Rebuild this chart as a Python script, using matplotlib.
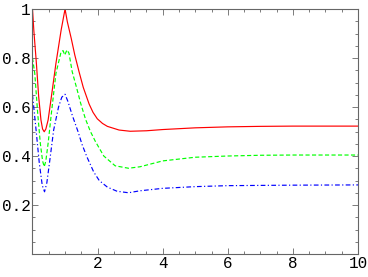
import numpy as np
import matplotlib
matplotlib.use('Agg')
import matplotlib.pyplot as plt
from matplotlib.ticker import MultipleLocator

# 読み取った曲線データ
red_x = [0, 0.04, 0.12, 0.19, 0.26, 0.31, 0.36, 0.41, 0.48, 0.58, 0.72, 0.88, 1.0,
         1.07, 1.19, 1.30, 1.43, 1.56, 1.74, 1.86, 1.99, 2.15, 2.30, 2.66, 3.0, 3.5, 4, 5, 6,
         7, 8, 9, 10]
red_y = [1.0, 0.914, 0.778, 0.642, 0.547, 0.51, 0.499, 0.51, 0.547, 0.642, 0.778, 0.914, 1.0,
         0.948, 0.88, 0.812, 0.744, 0.68, 0.612, 0.578, 0.552, 0.533, 0.521, 0.506, 0.501, 0.503,
         0.508, 0.515, 0.519, 0.521, 0.522, 0.522, 0.522]

green_x = [0, 0.07, 0.16, 0.24, 0.31, 0.36, 0.41, 0.48, 0.58, 0.72, 0.88, 0.94, 0.99, 1.06,
           1.12, 1.22, 1.36, 1.48, 1.63, 1.78, 1.93, 2.19, 2.54, 2.95, 3.3, 4, 5, 6, 7, 8, 10]
green_y = [0.80, 0.737, 0.574, 0.452, 0.38, 0.356, 0.38, 0.452, 0.574, 0.737, 0.826, 0.83, 0.812,
           0.833, 0.82, 0.744, 0.676, 0.615, 0.55, 0.50, 0.46, 0.40, 0.36, 0.35, 0.356, 0.38,
           0.395, 0.40, 0.403, 0.404, 0.404]

blue_x = [0, 0.11, 0.21, 0.3, 0.37, 0.44, 0.52, 0.65, 0.8, 0.9, 1.0, 1.09, 1.22, 1.40,
          1.52, 1.67, 1.88, 2.05, 2.3, 2.6, 2.95, 3.3, 4, 5, 6, 8, 10]
blue_y = [0.65, 0.506, 0.37, 0.28, 0.254, 0.29, 0.37, 0.506, 0.60, 0.64, 0.652, 0.622, 0.567,
          0.499, 0.448, 0.397, 0.335, 0.30, 0.273, 0.256, 0.25, 0.258, 0.268, 0.275, 0.279,
          0.281, 0.282]

xticks = [2, 4, 6, 8, 10]
yticks = [0.2, 0.4, 0.6, 0.8, 1]
xticklabels = ['2', '4', '6', '8', '10']
yticklabels = ['0.2', '0.4', '0.6', '0.8', '1']

fig = plt.figure(figsize=(3.68, 2.77), dpi=100)
ax = fig.add_axes([0.0883, 0.083, 0.8845, 0.8845])

ax.plot(red_x, red_y, color='#ff0000', lw=0.85)
ax.plot(green_x, green_y, color='#00ff00', lw=0.85, dashes=(3.5, 2))
ax.plot(blue_x, blue_y, color='#0000ff', lw=0.85, dashes=(4, 2, 1, 2))

ax.set_xlim(0, 10)
ax.set_ylim(0, 1)
ax.set_xticks(xticks)
ax.set_xticklabels(xticklabels)
ax.set_yticks(yticks)
ax.set_yticklabels(yticklabels)
ax.xaxis.set_minor_locator(MultipleLocator(0.5))
ax.yaxis.set_minor_locator(MultipleLocator(0.05))

for s in ax.spines.values():
    s.set_color('#666666')
    s.set_linewidth(0.8)
ax.tick_params(which='both', direction='in', top=True, right=True, color='#666666', width=0.6)
ax.tick_params(which='major', length=4, labelsize=11.5, pad=1.5)
ax.tick_params(which='minor', length=2)
for lab in ax.get_xticklabels() + ax.get_yticklabels():
    lab.set_family('Liberation Mono')

fig.savefig('out.png', dpi=100)
